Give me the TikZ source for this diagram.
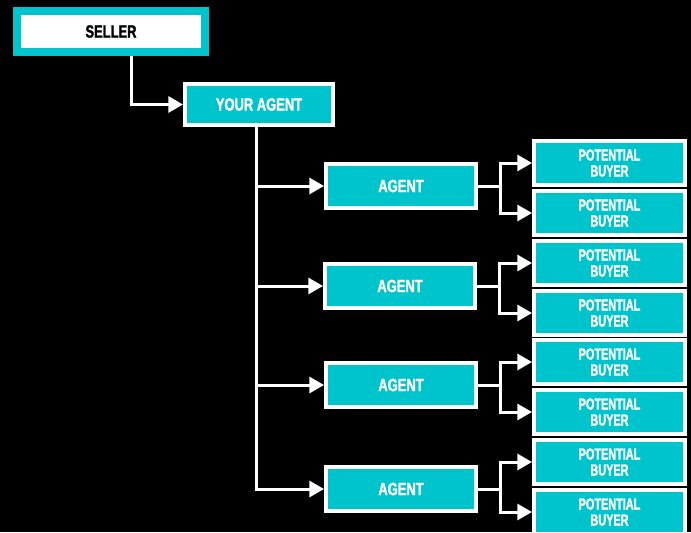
\documentclass[tikz,border=0pt]{standalone}
\usepackage{xcolor}
\usepackage{fontspec}
\newfontfamily\boxfont{Liberation Sans Bold}[FakeStretch=0.68, FakeBold=1.5]
\newfontfamily\headfont{Liberation Sans Bold}[FakeStretch=0.73, FakeBold=1.5]
\usepackage{tikz}
\usetikzlibrary{arrows.meta,positioning,calc}
\definecolor{tealbox}{HTML}{00C4CC}

\begin{document}
\begin{tikzpicture}[x=0.75pt, y=-0.75pt]
% Define styles
\tikzstyle{sellerbox} = [rectangle, draw=tealbox, line width=6pt, fill=white, text=black, minimum width=141pt, minimum height=30.75pt, inner sep=0pt, font=\headfont\fontsize{13.3}{13.3}\selectfont]
\tikzstyle{agentbox} = [rectangle, draw=white, line width=3pt, fill=tealbox, text=white, minimum width=112.5pt, minimum height=33pt, inner sep=0pt, font=\headfont\fontsize{13.3}{13.3}\selectfont]
\tikzstyle{buyerbox} = [agentbox, minimum width=113.25pt, align=center, font=\boxfont\fontsize{12}{12}\selectfont]
\tikzstyle{conn} = [draw=white, line width=2.25pt, -{Triangle[length=11pt,width=12pt]}]

% Background
\fill[black] (0,0) rectangle (691,532);
\useasboundingbox (0,0) rectangle (691,532);

% Seller and own agent
\node[sellerbox] (seller) at (111,31.5) {SELLER};
\node[agentbox, minimum width=111pt, minimum height=30.75pt] (youragent) at (259,104.5) {YOUR AGENT};

% Agents
\node[agentbox] (agent1) at (401,186) {AGENT};
\node[agentbox] (agent2) at (400,286) {AGENT};
\node[agentbox] (agent3) at (401,385) {AGENT};
\node[agentbox] (agent4) at (401,489) {AGENT};

% Potential buyers
\node[buyerbox] (buyer1) at (609.5,163) {POTENTIAL\\BUYER};
\node[buyerbox] (buyer2) at (609.5,213) {POTENTIAL\\BUYER};
\node[buyerbox] (buyer3) at (609.5,263) {POTENTIAL\\BUYER};
\node[buyerbox] (buyer4) at (609.5,313) {POTENTIAL\\BUYER};
\node[buyerbox] (buyer5) at (609.5,362) {POTENTIAL\\BUYER};
\node[buyerbox] (buyer6) at (609.5,412) {POTENTIAL\\BUYER};
\node[buyerbox] (buyer7) at (609.5,462) {POTENTIAL\\BUYER};
\node[buyerbox] (buyer8) at (609.5,512) {POTENTIAL\\BUYER};

% Forks
\coordinate (trunk) at ([xshift=-2.25pt]youragent.south);
\coordinate (fork1) at ([xshift=16.5pt]agent1.east);
\coordinate (fork2) at ([xshift=16.5pt]agent2.east);
\coordinate (fork3) at ([xshift=16.5pt]agent3.east);
\coordinate (fork4) at ([xshift=16.5pt]agent4.east);

% Connections
\draw[conn] ([xshift=15pt]seller.south) |- (youragent.west);
\draw[conn] (trunk) |- (agent4.west);
\draw[conn] (trunk |- agent1.west) -- (agent1.west);
\draw[conn] (trunk |- agent2.west) -- (agent2.west);
\draw[conn] (trunk |- agent3.west) -- (agent3.west);
\draw[conn] (agent1.east) -- (fork1) |- (buyer1.west);
\draw[conn] (fork1) |- (buyer2.west);
\draw[conn] (agent2.east) -- (fork2) |- (buyer3.west);
\draw[conn] (fork2) |- (buyer4.west);
\draw[conn] (agent3.east) -- (fork3) |- (buyer5.west);
\draw[conn] (fork3) |- (buyer6.west);
\draw[conn] (agent4.east) -- (fork4) |- (buyer7.west);
\draw[conn] (fork4) |- (buyer8.west);

\end{tikzpicture}
\end{document}
